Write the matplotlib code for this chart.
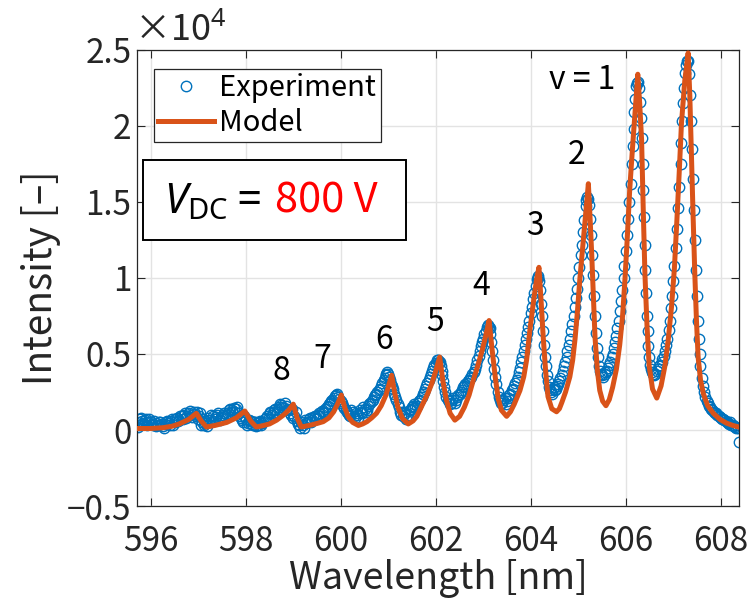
import numpy as np
import matplotlib
matplotlib.use('Agg')
import matplotlib.pyplot as plt
from matplotlib.patches import Rectangle

plt.rcParams['font.family'] = ['Noto Sans CJK JP', 'DejaVu Sans']
plt.rcParams['mathtext.fontset'] = 'custom'
plt.rcParams['mathtext.rm'] = 'Noto Sans'
plt.rcParams['mathtext.it'] = 'Noto Sans:italic'

# 実験データ 1 (波長 nm, 強度)
exp_wl = [595.72, 595.74, 595.78, 595.82, 595.86, 595.90, 595.95, 596.00, 596.05, 596.10,
          596.15, 596.20, 596.25, 596.30, 596.35, 596.40, 596.45, 596.50, 596.55, 596.60,
          596.65, 596.70, 596.75, 596.80, 596.85, 596.90, 596.95, 597.00, 597.04, 597.08,
          597.12, 597.16, 597.20, 597.25, 597.30, 597.35, 597.40, 597.45, 597.50, 597.55,
          597.60, 597.65, 597.70, 597.75, 597.80, 597.85, 597.90, 597.95, 598.00, 598.05,
          598.10, 598.15, 598.20, 598.25, 598.30, 598.35, 598.40, 598.45, 598.50, 598.55,
          598.60, 598.65, 598.70, 598.75, 598.80, 598.85, 598.90, 598.95, 599.00, 599.05,
          599.10, 599.15, 599.20, 599.25, 599.30, 599.35, 599.40, 599.45, 599.50, 599.55,
          599.60, 599.65, 599.70, 599.75, 599.80, 599.85, 599.90, 599.95, 600.00, 600.05,
          600.10, 600.15, 600.20, 600.25, 600.30, 600.35, 600.40, 600.45, 600.50, 600.55,
          600.60, 600.65, 600.70, 600.75, 600.80, 600.85, 600.90, 600.95, 600.98, 601.02,
          601.06, 601.10, 601.15, 601.20, 601.25, 601.30, 601.35, 601.40, 601.45, 601.50,
          601.55, 601.60, 601.65, 601.70, 601.75, 601.80, 601.85, 601.90, 601.95, 602.00,
          602.04, 602.08, 602.12, 602.16, 602.20, 602.25, 602.30, 602.35, 602.40, 602.45,
          602.50, 602.55, 602.60, 602.65, 602.70, 602.75, 602.80, 602.85, 602.90, 602.95,
          603.00, 603.05, 603.09, 603.13, 603.17, 603.21, 603.25, 603.30, 603.35, 603.40,
          603.45, 603.50, 603.55, 603.60, 603.65, 603.70, 603.75, 603.80, 603.85, 603.90,
          603.95, 604.00, 604.05, 604.10, 604.14, 604.18, 604.22, 604.26, 604.30, 604.34,
          604.38, 604.42, 604.46, 604.50, 604.55, 604.60, 604.65, 604.70, 604.75, 604.80,
          604.85, 604.90, 604.95, 605.00, 605.05, 605.10, 605.15, 605.19, 605.23, 605.27,
          605.31, 605.35, 605.39, 605.43, 605.47, 605.52, 605.57, 605.62, 605.67, 605.72,
          605.77, 605.82, 605.87, 605.92, 605.97, 606.02, 606.07, 606.12, 606.16, 606.20,
          606.24, 606.28, 606.32, 606.35, 606.38, 606.41, 606.44, 606.47, 606.51, 606.55,
          606.60, 606.65, 606.70, 606.75, 606.80, 606.85, 606.90, 606.95, 607.00, 607.05,
          607.10, 607.15, 607.19, 607.23, 607.27, 607.31, 607.35, 607.39, 607.43, 607.47,
          607.51, 607.55, 607.60, 607.65, 607.70, 607.75, 607.80, 607.85, 607.90, 607.95,
          608.00, 608.05, 608.10, 608.15, 608.20, 608.25, 608.30, 608.35, 608.37]
exp_int = [500, 200, 700, 600, 400, 750, 500, 550, 350, 450,
           300, 500, 250, 400, 600, 350, 700, 500, 800, 650,
           900, 1000, 800, 1150, 1000, 1200, 900, 700, 1100, 500,
           300, 600, 800, 550, 900, 700, 1000, 650, 850, 1100,
           1000, 1300, 1200, 1450, 1350, 1100, 800, 500, 700, 450,
           600, 300, 500, 350, 600, 450, 700, 900, 1100, 1000,
           1300, 1200, 1500, 1650, 1450, 1550, 1300, 1000, 800, 1200,
           400, 150, 300, 650, 500, 800, 650, 950, 800, 1100,
           1250, 1100, 1500, 1700, 1900, 2100, 2300, 2200, 1900, 1600,
           1300, 1100, 900, 1200, 800, 1000, 1300, 1100, 1400, 1300,
           1700, 1900, 2200, 2400, 2600, 2900, 3300, 3600, 3800, 3500,
           3000, 2700, 2200, 1700, 1200, 900, 1100, 800, 1300, 1500,
           1700, 1600, 1900, 2200, 2500, 2900, 3300, 3700, 4100, 4400,
           4600, 4500, 3900, 3200, 2500, 2000, 1700, 2000, 1800, 2200,
           2400, 2600, 2900, 3100, 3300, 3500, 3800, 4300, 4900, 5500,
           6000, 6500, 6900, 6700, 5800, 4600, 3500, 2500, 2000, 1800,
           2100, 1900, 2300, 2600, 2900, 3300, 3800, 4500, 5200, 6000,
           6800, 7700, 8600, 9500, 10100, 9800, 8300, 6500, 4800, 3600,
           2800, 2500, 2700, 2600, 2900, 3200, 3600, 4200, 4800, 5600,
           6500, 7500, 8700, 10000, 11500, 13000, 14700, 15300, 14800, 12800,
           10200, 7500, 5400, 4200, 3700, 3500, 3800, 4100, 4500, 5000,
           5800, 6700, 7800, 9200, 10800, 12800, 15000, 17500, 19800, 21800,
           22800, 22500, 20500, 17500, 14000, 10500, 7500, 5500, 4300, 3800,
           3600, 3900, 4200, 4500, 4900, 5600, 6600, 8000, 9800, 12000,
           14600, 17500, 20300, 22500, 24000, 24300, 22000, 18500, 14500, 10500,
           7200, 5000, 3400, 2500, 1900, 1600, 1400, 1200, 1100, 900,
           800, 700, 600, 450, 500, 300, 200, 100, -800]

# 実験データ 2 (間の点)
exp2_wl = [595.76, 595.80, 595.84, 595.88, 595.92, 595.97, 596.02, 596.07, 596.12, 596.17,
           596.22, 596.27, 596.32, 596.37, 596.42, 596.47, 596.52, 596.57, 596.62, 596.67,
           596.72, 596.77, 596.82, 596.87, 596.92, 596.97, 597.02, 597.06, 597.10, 597.14,
           597.18, 597.22, 597.27, 597.32, 597.37, 597.42, 597.47, 597.52, 597.57, 597.62,
           597.67, 597.72, 597.77, 597.82, 597.87, 597.92, 597.97, 598.02, 598.07, 598.12,
           598.17, 598.22, 598.27, 598.32, 598.37, 598.42, 598.47, 598.52, 598.57, 598.62,
           598.67, 598.72, 598.77, 598.82, 598.87, 598.92, 598.97, 599.02, 599.07, 599.12,
           599.17, 599.22, 599.27, 599.32, 599.37, 599.42, 599.47, 599.52, 599.57, 599.62,
           599.67, 599.72, 599.77, 599.82, 599.87, 599.92, 599.97, 600.02, 600.07, 600.12,
           600.17, 600.22, 600.27, 600.32, 600.37, 600.42, 600.47, 600.52, 600.57, 600.62,
           600.67, 600.72, 600.77, 600.82, 600.87, 600.92, 600.96, 601.00, 601.04, 601.08,
           601.12, 601.17, 601.22, 601.27, 601.32, 601.37, 601.42, 601.47, 601.52, 601.57,
           601.62, 601.67, 601.72, 601.77, 601.82, 601.87, 601.92, 601.97, 602.02, 602.06,
           602.10, 602.14, 602.18, 602.22, 602.27, 602.32, 602.37, 602.42, 602.47, 602.52,
           602.57, 602.62, 602.67, 602.72, 602.77, 602.82, 602.87, 602.92, 602.97, 603.02,
           603.07, 603.11, 603.15, 603.19, 603.23, 603.27, 603.32, 603.37, 603.42, 603.47,
           603.52, 603.57, 603.62, 603.67, 603.72, 603.77, 603.82, 603.87, 603.92, 603.97,
           604.02, 604.07, 604.12, 604.16, 604.20, 604.24, 604.28, 604.32, 604.36, 604.40,
           604.44, 604.48, 604.52, 604.57, 604.62, 604.67, 604.72, 604.77, 604.82, 604.87,
           604.92, 604.97, 605.02, 605.07, 605.12, 605.17, 605.21, 605.25, 605.29, 605.33,
           605.37, 605.41, 605.45, 605.50, 605.55, 605.60, 605.65, 605.70, 605.75, 605.80,
           605.85, 605.90, 605.95, 606.00, 606.05, 606.10, 606.14, 606.18, 606.22, 606.26,
           606.30, 606.33, 606.37, 606.40, 606.43, 606.46, 606.49, 606.53, 606.58, 606.62,
           606.67, 606.72, 606.77, 606.82, 606.87, 606.92, 606.97, 607.02, 607.07, 607.12,
           607.17, 607.21, 607.25, 607.29, 607.33, 607.37, 607.41, 607.45, 607.49, 607.53,
           607.57, 607.62, 607.67, 607.72, 607.77, 607.82, 607.87, 607.92, 607.97, 608.02,
           608.07, 608.12, 608.17, 608.22, 608.27, 608.32]
exp2_int = [300, 800, 450, 650, 300, 700, 400, 600, 250, 550,
            400, 150, 550, 450, 600, 350, 750, 600, 950, 750,
            1100, 950, 1250, 850, 1050, 1200, 900, 350, 700, 450,
            250, 650, 1000, 600, 850, 1150, 800, 1000, 900, 1150,
            1400, 1300, 1200, 1500, 900, 650, 900, 350, 650, 400,
            550, 250, 500, 350, 550, 800, 750, 1200, 1150, 1400,
            1350, 1700, 1500, 1750, 1400, 1150, 1350, 900, 600, 300,
            500, 100, 450, 700, 550, 850, 700, 1000, 950, 1200,
            1350, 1600, 1800, 2000, 2250, 2400, 2050, 1750, 1450, 1200,
            1000, 1300, 900, 1100, 800, 1200, 1500, 1200, 1600, 1800,
            2000, 2300, 2500, 2700, 3100, 3400, 3700, 3700, 3300, 2900,
            2400, 2000, 1500, 1000, 1200, 700, 1000, 1400, 1600, 1500,
            1800, 2000, 2400, 2700, 3100, 3500, 3900, 4300, 4600, 4500,
            4200, 3600, 2800, 2200, 1900, 1800, 2100, 2000, 2300, 2500,
            2800, 3000, 3200, 3400, 3700, 4000, 4600, 5200, 5800, 6300,
            6800, 6800, 6300, 5200, 4000, 3000, 2200, 1800, 2000, 1700,
            2100, 2400, 2700, 3100, 3500, 4100, 4800, 5600, 6400, 7200,
            8100, 9000, 9900, 10000, 9200, 7500, 5600, 4200, 3200, 2600,
            2400, 2800, 2700, 3000, 3400, 3900, 4500, 5200, 6000, 7000,
            8100, 9300, 10700, 12200, 13800, 15100, 15200, 13900, 11500, 8800,
            6400, 4800, 3900, 3600, 3700, 3900, 4300, 4800, 5400, 6200,
            7200, 8500, 10000, 11800, 13900, 16200, 18700, 20900, 22600, 22900,
            21600, 19200, 15800, 12200, 9000, 6500, 4800, 4000, 3700, 3700,
            4000, 4300, 4700, 5200, 6000, 7200, 8800, 10800, 13200, 16000,
            18900, 21500, 23500, 24300, 23400, 20300, 16500, 12500, 8800, 6000,
            4200, 2900, 2200, 1800, 1500, 1300, 1150, 1000, 850, 750,
            650, 550, 400, 350, 250, 150]

# モデル
model_wl = [595.70, 596.00, 596.25, 596.45, 596.60, 596.80, 596.96, 597.06, 597.17, 597.35,
            597.60, 597.80, 597.98, 598.10, 598.22, 598.35, 598.50, 598.65, 598.80, 598.90,
            599.00, 599.08, 599.17, 599.30, 599.40, 599.52, 599.63, 599.75, 599.85, 599.93,
            600.01, 600.08, 600.15, 600.25, 600.37, 600.46, 600.55, 600.65, 600.75, 600.85,
            600.95, 601.07, 601.13, 601.20, 601.30, 601.42, 601.52, 601.60, 601.73, 601.83,
            601.92, 602.00, 602.08, 602.15, 602.22, 602.30, 602.40, 602.50, 602.60, 602.70,
            602.79, 602.88, 602.98, 603.05, 603.12, 603.18, 603.25, 603.31, 603.38, 603.49,
            603.57, 603.65, 603.77, 603.85, 603.91, 603.98, 604.07, 604.12, 604.17, 604.215,
            604.26, 604.31, 604.36, 604.44, 604.54, 604.60, 604.65, 604.73, 604.82, 604.88,
            604.93, 604.98, 605.03, 605.09, 605.14, 605.21, 605.245, 605.28, 605.315, 605.35,
            605.40, 605.45, 605.51, 605.58, 605.65, 605.72, 605.80, 605.87, 605.93, 605.98,
            606.03, 606.08, 606.14, 606.19, 606.25, 606.29, 606.33, 606.365, 606.40, 606.445,
            606.49, 606.56, 606.65, 606.74, 606.82, 606.89, 606.96, 607.02, 607.07, 607.12,
            607.17, 607.24, 607.31, 607.345, 607.38, 607.415, 607.45, 607.485, 607.52, 607.57,
            607.63, 607.72, 607.84, 607.98, 608.12, 608.25, 608.37]
model_int = [100, 100, 150, 250, 400, 700, 1100, 600, 200, 300,
             500, 800, 1250, 600, 200, 280, 400, 650, 1000, 1300,
             1700, 800, 200, 280, 350, 450, 550, 800, 1200, 1700,
             2300, 1500, 900, 500, 300, 400, 550, 800, 1100, 1600,
             2300, 3600, 2500, 1500, 750, 400, 600, 900, 1750, 2400,
             3100, 3900, 4800, 3200, 2000, 1100, 650, 900, 1500, 2300,
             3300, 4200, 5300, 6200, 7200, 5400, 3500, 2100, 1300, 900,
             1200, 1700, 2600, 3500, 4600, 6600, 8800, 9900, 10700, 8500,
             6100, 3900, 2200, 1400, 1200, 1400, 1800, 2500, 3500, 4600,
             6000, 7800, 9900, 12000, 13800, 16200, 14000, 11600, 8800, 6100,
             3900, 2600, 1900, 1600, 2000, 2800, 4000, 5600, 7500, 9900,
             12700, 15800, 18600, 20800, 23400, 21500, 19100, 14500, 10300, 6800,
             4200, 2700, 2100, 2900, 4200, 5900, 8100, 10600, 13600, 16800,
             20200, 23000, 24800, 22000, 18000, 14000, 10300, 7200, 4800, 3300,
             2400, 1600, 1100, 700, 450, 300, 200]

# 振動準位ラベル
peak_labels = ['8', '7', '6', '5', '4', '3', '2', 'v = 1']
peak_label_wl = [598.74, 599.60, 600.90, 601.98, 602.95, 604.08, 604.97, 605.07]
peak_label_int = [3900, 4700, 5900, 7100, 9500, 13400, 18100, 23000]

xticks = [596, 598, 600, 602, 604, 606, 608]
yticks = [-5000, 0, 5000, 10000, 15000, 20000, 25000]
ytick_labels = ['\u22120.5', '0', '0.5', '1', '1.5', '2', '2.5']

fig = plt.figure(figsize=(7.51, 6.01), dpi=100)
ax = fig.add_axes([0.1824, 0.158, 0.8016, 0.759])

blue = '#0072BD'
orange = '#D95319'
ax.plot(exp_wl, exp_int, 'o', mfc='none', mec=blue, ms=7.5, mew=1.0, label='Experiment', zorder=2)
ax.plot(exp2_wl, exp2_int, 'o', mfc='none', mec=blue, ms=7.5, mew=1.0, zorder=2)
ax.plot(model_wl, model_int, '-', color=orange, lw=3.6, label='Model', zorder=3)

ax.set_xlim(595.71, 608.38)
ax.set_ylim(-5000, 25000)
ax.set_xticks(xticks)
ax.set_yticks(yticks)
ax.set_yticklabels(ytick_labels)
ax.grid(True, color='#e3e3e3', lw=1)
ax.set_axisbelow(True)
ax.tick_params(direction='in', top=True, right=True, length=6, width=0.8,
               labelsize=24, colors='#262626', pad=4)
ax.tick_params(axis='x', pad=13)
for s in ax.spines.values():
    s.set_color('#262626')
    s.set_linewidth(0.9)

# x ラベルはベースライン位置で固定
ax.set_xlabel('Wavelength [nm]', fontsize=27, color='#262626', va='baseline')
ax.xaxis.set_label_coords(0.5, -0.182)
ax.set_ylabel('Intensity [\u2013]', fontsize=28, color='#262626', labelpad=4)
fig.text(0.178, 0.918, '\u00d710$^{4}$', fontsize=26, color='#262626', va='bottom', ha='left')

leg = ax.legend(loc='upper left', bbox_to_anchor=(0.028, 0.958), borderaxespad=0,
                fontsize=21, fancybox=False, framealpha=1, edgecolor='#262626',
                handlelength=1.9, handletextpad=0.2, borderpad=0.15, labelspacing=0.15)
leg.get_frame().set_linewidth(0.9)

ax.add_patch(Rectangle((0.01, 0.583), 0.437, 0.176, transform=ax.transAxes,
                       fill=True, facecolor='white', edgecolor='black', lw=1.4, zorder=5))
ax.text(0.045, 0.668, '$V$$_{\\mathrm{DC}}$ =', transform=ax.transAxes, fontsize=30,
        ha='left', va='center', zorder=6)
ax.text(0.229, 0.668, '800 V', transform=ax.transAxes, fontsize=30, color='red',
        ha='left', va='center', zorder=6)

for lab, x, y in zip(peak_labels, peak_label_wl, peak_label_int):
    ax.text(x, y, lab, fontsize=23, ha='center', va='center', color='black')

fig.savefig('out.png', dpi=100)
